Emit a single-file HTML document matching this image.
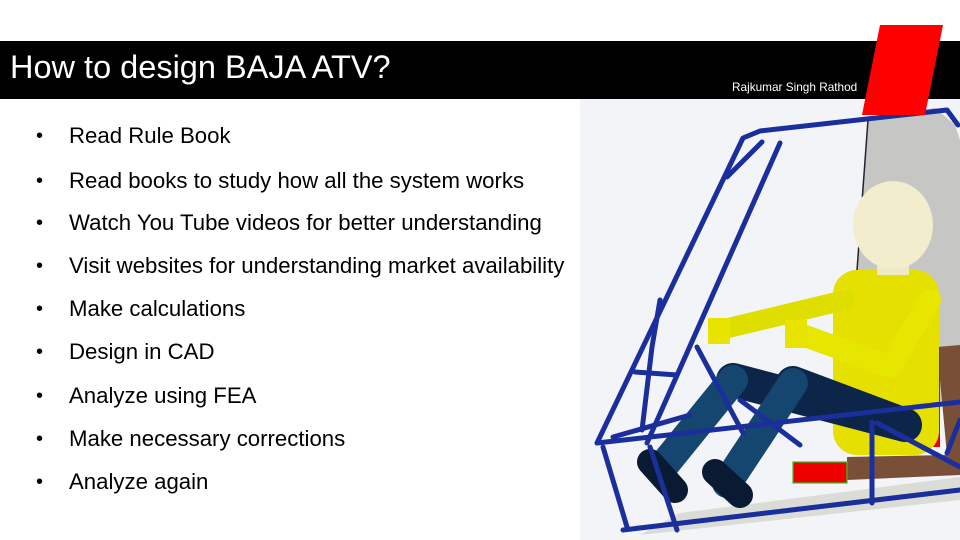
<!DOCTYPE html>
<html><head><meta charset="utf-8"><style>
body{margin:0;width:960px;height:540px;position:relative;overflow:hidden;background:#fff;font-family:"Liberation Sans",sans-serif}
.bar{position:absolute;left:0;top:41px;width:960px;height:58px;background:#000}
.title{position:absolute;left:10px;top:49px;color:#fff;font-size:32.5px;white-space:nowrap}
.auth{position:absolute;left:732px;top:80px;color:#fff;font-size:11.8px;white-space:nowrap}
.li{position:absolute;left:36px;font-size:20px;color:#000;white-space:nowrap}
.li span{position:absolute;left:33px;font-size:22.2px;top:-2px}
</style></head><body>
<div class="bar"></div>
<div class="title">How to design BAJA ATV?</div>
<div class="auth">Rajkumar Singh Rathod</div>
<svg style="position:absolute;left:0;top:0" width="960" height="540">
<rect x="580" y="99" width="380" height="441" fill="#f3f4f8"/>
<polygon points="868,120 935,108 955,125 960,140 960,400 847,407" fill="#c6c6c4"/>
<line x1="868" y1="120" x2="847" y2="407" stroke="#223" stroke-width="1.5"/>
<polygon points="680,513 960,477 960,500 640,535" fill="#dcdcd6"/>
<polygon points="847,457 947,455 937,347 960,345 960,475 847,480" fill="#7a4f38"/>
<rect x="932" y="347" width="8" height="100" fill="#e00"/>
<line x1="937" y1="350" x2="934" y2="445" stroke="#2c2" stroke-width="1.5"/>
<rect x="793" y="462" width="54" height="21" fill="#e00" stroke="#2c2" stroke-width="1.2"/>
<rect x="833" y="270" width="106" height="185" rx="24" fill="#e6e000"/>
<path d="M845,300 L720,330" stroke="#dede00" stroke-width="20" stroke-linecap="round"/>
<rect x="708" y="318" width="22" height="26" fill="#e8e400"/>
<path d="M930,300 L890,367 L797,333" stroke="#e6e600" stroke-width="22" stroke-linecap="round" stroke-linejoin="round" fill="none"/>
<rect x="785" y="320" width="22" height="28" fill="#e8e400"/>
<rect x="877" y="245" width="32" height="30" fill="#efe9c6"/>
<ellipse cx="893" cy="225" rx="40" ry="44" fill="#f2edcc"/>
<path d="M733,380 L905,425 M793,383 L905,425" stroke="#0c2548" stroke-width="34" stroke-linecap="round"/>
<path d="M733,380 L660,470 M793,383 L727,483" stroke="#14466f" stroke-width="30" stroke-linecap="round"/>
<path d="M650,462 L675,490 M715,472 L740,495" stroke="#0a1a33" stroke-width="26" stroke-linecap="round"/>
<g fill="none" stroke="#1a2f9c" stroke-width="5" stroke-linecap="round" stroke-linejoin="round">
<path d="M597,443 L743,138 L760,131 L947,110 L958,125"/>
<path d="M727,177 L762,142"/>
<path d="M780,143 L647,443"/>
<path d="M660,300 L652,347 L642,430"/>
<path d="M635,372 L677,375"/>
<path d="M697,347 L743,433"/>
<path d="M597,443 L960,402"/>
<path d="M613,437 L690,415"/>
<path d="M623,530 L960,490"/>
<path d="M603,447 L627,527"/>
<path d="M650,447 L677,530"/>
<path d="M872,422 L872,503"/>
<path d="M877,423 L960,467"/>
<path d="M947,453 L960,420"/>
<path d="M740,400 L800,445"/>
</g>
<polygon points="862,115 925,115 943,25 880,25" fill="#f00"/>
</svg>
<div class="li" style="top:125px">•<span>Read Rule Book</span></div>
<div class="li" style="top:170px">•<span>Read books to study how all the system works</span></div>
<div class="li" style="top:212px">•<span>Watch You Tube videos for better understanding</span></div>
<div class="li" style="top:255px">•<span>Visit websites for understanding market availability</span></div>
<div class="li" style="top:298px">•<span>Make calculations</span></div>
<div class="li" style="top:341px">•<span>Design in CAD</span></div>
<div class="li" style="top:385px">•<span>Analyze using FEA</span></div>
<div class="li" style="top:428px">•<span>Make necessary corrections</span></div>
<div class="li" style="top:471px">•<span>Analyze again</span></div>
</body></html>
